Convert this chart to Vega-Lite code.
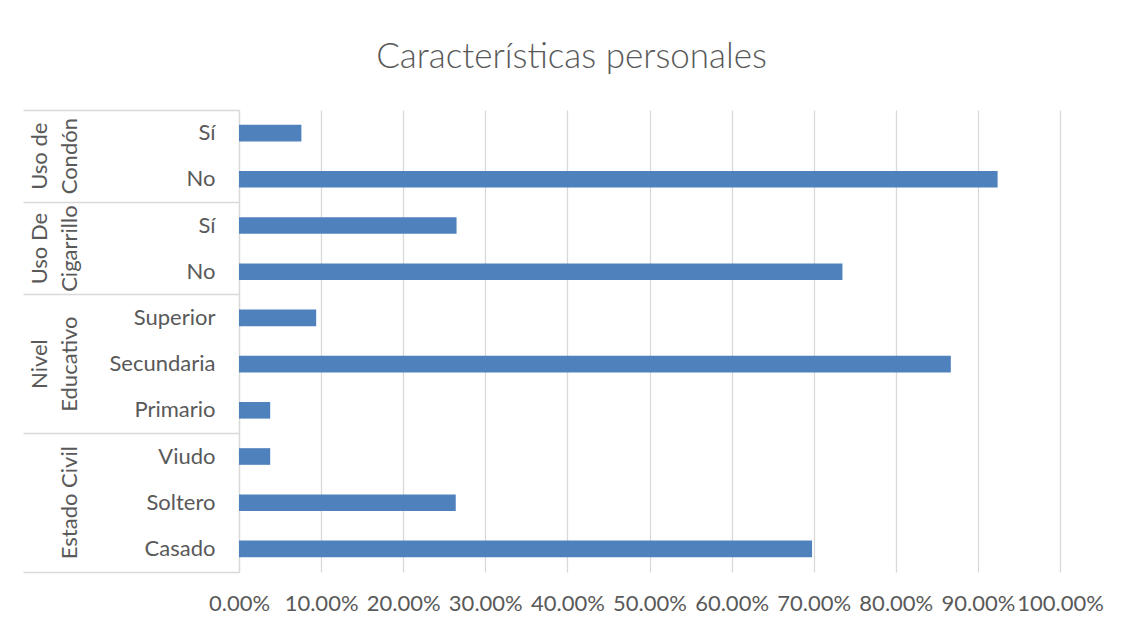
{
  "$schema": "https://vega.github.io/schema/vega-lite/v6.json",
  "width": 821,
  "height": 462,
  "autosize": "none",
  "padding": {"left": 239, "top": 110, "right": 61, "bottom": 53},
  "background": "white",
  "title": {
    "text": "Características personales",
    "font": "Lato",
    "fontWeight": 300,
    "fontSize": 35,
    "color": "#595959",
    "anchor": "middle",
    "frame": "group",
    "dx": -78,
    "offset": 6,
    "baseline": "alphabetic"
  },
  "data": {
    "values": [
      {"grupo": "Uso de Condón", "categoria": "Sí", "porcentaje": 0.076},
      {"grupo": "Uso de Condón", "categoria": "No", "porcentaje": 0.924},
      {"grupo": "Uso De Cigarrillo", "categoria": "Sí", "porcentaje": 0.265},
      {"grupo": "Uso De Cigarrillo", "categoria": "No", "porcentaje": 0.735},
      {"grupo": "Nivel Educativo", "categoria": "Superior", "porcentaje": 0.094},
      {"grupo": "Nivel Educativo", "categoria": "Secundaria", "porcentaje": 0.867},
      {"grupo": "Nivel Educativo", "categoria": "Primario", "porcentaje": 0.038},
      {"grupo": "Estado Civil", "categoria": "Viudo", "porcentaje": 0.038},
      {"grupo": "Estado Civil", "categoria": "Soltero", "porcentaje": 0.264},
      {"grupo": "Estado Civil", "categoria": "Casado", "porcentaje": 0.698}
    ]
  },
  "transform": [
    {"calculate": "datum.grupo + '|' + datum.categoria", "as": "clave"}
  ],
  "encoding": {
    "x": {
      "field": "porcentaje",
      "type": "quantitative",
      "scale": {"domain": [0, 1], "nice": false, "zero": true},
      "axis": {
        "title": null,
        "values": [0, 0.1, 0.2, 0.3, 0.4, 0.5, 0.6, 0.7, 0.8, 0.9, 1],
        "format": ".2%",
        "domain": false,
        "ticks": false,
        "tickSize": 0,
        "grid": true,
        "gridColor": "#d9d9d9",
        "gridWidth": 1.3,
        "labelFont": "Lato",
        "labelFontSize": 22,
        "labelColor": "#595959",
        "labelPadding": 21,
        "labelFlush": false,
        "labelOverlap": false
      }
    }
  },
  "layer": [
    {
      "mark": {"type": "bar", "color": "#4f81bd", "height": {"band": 0.36}},
      "encoding": {
        "y": {
          "field": "clave",
          "type": "nominal",
          "sort": null,
          "scale": {"paddingInner": 0, "paddingOuter": 0},
          "axis": {
            "orient": "left",
            "title": null,
            "grid": false,
            "domain": true,
            "domainColor": "#d9d9d9",
            "domainWidth": 1.3,
            "ticks": false,
            "tickSize": 0,
            "labelExpr": "split(datum.value, '|')[1]",
            "labelFont": "Lato",
            "labelFontSize": 22,
            "labelColor": "#595959",
            "labelPadding": 24,
            "labelAlign": "right",
            "labelBaseline": "middle"
          }
        }
      }
    },
    {
      "mark": {"type": "bar", "opacity": 0},
      "encoding": {
        "y": {
          "field": "clave",
          "type": "nominal",
          "sort": null,
          "axis": {
            "orient": "left",
            "title": null,
            "grid": false,
            "domain": false,
            "labels": false,
            "ticks": true,
            "tickSize": 216,
            "tickColor": "#d9d9d9",
            "tickWidth": 1.3,
            "bandPosition": 0,
            "values": ["Uso de Condón|Sí", "Uso De Cigarrillo|Sí", "Nivel Educativo|Superior", "Estado Civil|Viudo"]
          }
        }
      }
    },
    {
      "mark": {"type": "bar", "opacity": 0},
      "encoding": {
        "y": {
          "field": "clave",
          "type": "nominal",
          "sort": null,
          "axis": {
            "orient": "left",
            "title": null,
            "grid": false,
            "domain": false,
            "labels": false,
            "ticks": true,
            "tickSize": 216,
            "tickColor": "#d9d9d9",
            "tickWidth": 1.3,
            "bandPosition": 1,
            "values": ["Estado Civil|Casado"]
          }
        }
      }
    },
    {
      "mark": {"type": "bar", "opacity": 0},
      "encoding": {
        "y": {
          "field": "clave",
          "type": "nominal",
          "sort": null,
          "axis": {
            "orient": "left",
            "title": null,
            "grid": false,
            "domain": false,
            "ticks": false,
            "tickSize": 0,
            "values": ["Uso de Condón|Sí", "Uso De Cigarrillo|Sí", "Nivel Educativo|Secundaria", "Estado Civil|Soltero"],
            "labelExpr": "indexof(datum.value, 'Estado Civil') === 0 ? ['', 'Estado Civil'] : [substring(split(datum.value, '|')[0], 0, lastindexof(split(datum.value, '|')[0], ' ')), substring(split(datum.value, '|')[0], lastindexof(split(datum.value, '|')[0], ' ') + 1)]",
            "labelAngle": 270,
            "labelAlign": "center",
            "labelBaseline": "bottom",
            "labelLineHeight": 30,
            "labelPadding": 188,
            "labelOffset": {
              "condition": {"test": "indexof(['Uso de Condón|Sí', 'Uso De Cigarrillo|Sí'], datum.value) >= 0", "value": 23.1},
              "value": 0
            },
            "labelFont": "Lato",
            "labelFontSize": 22,
            "labelColor": "#595959",
            "labelLimit": 300
          }
        }
      }
    }
  ],
  "resolve": {"axis": {"y": "independent"}},
  "config": {
    "view": {"stroke": null}
  }
}
